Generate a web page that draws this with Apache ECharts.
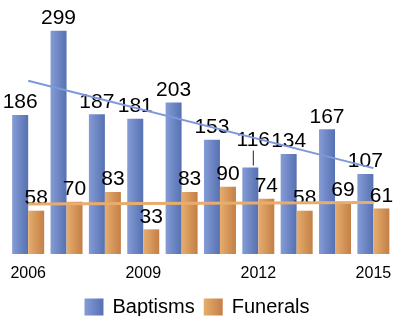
<!DOCTYPE html>
<html>
<head>
<meta charset="utf-8">
<script src="https://cdn.jsdelivr.net/npm/echarts@6/dist/echarts.min.js"></script>
<style>html,body{margin:0;padding:0;background:#fff}#c{width:394px;height:316px}</style>
</head>
<body>
<div id="c"></div>
<script>
var years = ['2006','2007','2008','2009','2010','2011','2012','2013','2014','2015'];
var baptisms = [186, 299, 187, 181, 203, 153, 116, 134, 167, 107];
var funerals = [58, 70, 83, 33, 83, 90, 74, 58, 69, 61];
// trend line endpoints (first and last year)
var baptismTrend = [232, 115];
var funeralTrend = [67, 69];

var blueGrad = new echarts.graphic.LinearGradient(0, 0, 1, 0, [
  {offset: 0, color: '#859cd6'}, {offset: 1, color: '#5671b2'}]);
var orangeGrad = new echarts.graphic.LinearGradient(0, 0, 1, 0, [
  {offset: 0, color: '#e6ad6e'}, {offset: 1, color: '#c47f46'}]);

var font = 'Liberation Sans, Arial, sans-serif';

var bapData = baptisms.map(function (v, i) {
  if (v === 116) {
    return {value: v, label: {offset: [3, 0], formatter: '{n|{c}}\n{l|}',
      rich: {n: {fontSize: 21, fontFamily: font, color: '#000', lineHeight: 21},
             l: {width: 1, height: 15, backgroundColor: '#222', align: 'center'}}}};
  }
  return v;
});

var chart = echarts.init(document.getElementById('c'));
chart.setOption({
  animation: false,
  grid: {left: 9, width: 387, top: 30, bottom: 62},
  legend: {
    data: ['Baptisms', 'Funerals'],
    top: 292, left: 'center',
    itemWidth: 19, itemHeight: 17, itemGap: 9,
    icon: 'rect',
    textStyle: {fontSize: 20, fontFamily: font, color: '#000', padding: [0, 0, 0, 4]}
  },
  xAxis: {
    type: 'category', data: years,
    axisLine: {show: false}, axisTick: {show: false},
    axisLabel: {interval: 2, fontSize: 16, fontFamily: font, color: '#000', margin: 12}
  },
  yAxis: {type: 'value', min: 0, max: 300, show: false, splitLine: {show: false}},
  series: [
    {name: 'Baptisms', type: 'bar', data: bapData, barWidth: 16, barGap: '0%',
     itemStyle: {color: blueGrad}, z: 2,
     label: {show: true, position: 'top', distance: 2, fontSize: 21, fontFamily: font, color: '#000'}},
    {name: 'Funerals', type: 'bar', data: funerals, barWidth: 16, barGap: '0%',
     itemStyle: {color: orangeGrad}, z: 2,
     label: {show: true, position: 'top', distance: 2, fontSize: 21, fontFamily: font, color: '#000'}},
    {name: 'bTrend', type: 'line', data: [[0, baptismTrend[0]], [9, baptismTrend[1]]],
     symbol: 'none', lineStyle: {color: '#7e98dc', width: 2}, z: 10, silent: true},
    {name: 'fTrend', type: 'line', data: [[0, funeralTrend[0]], [9, funeralTrend[1]]],
     symbol: 'none', lineStyle: {color: '#e8ad6c', width: 3}, z: 10, silent: true}
  ]
});
</script>
</body>
</html>
